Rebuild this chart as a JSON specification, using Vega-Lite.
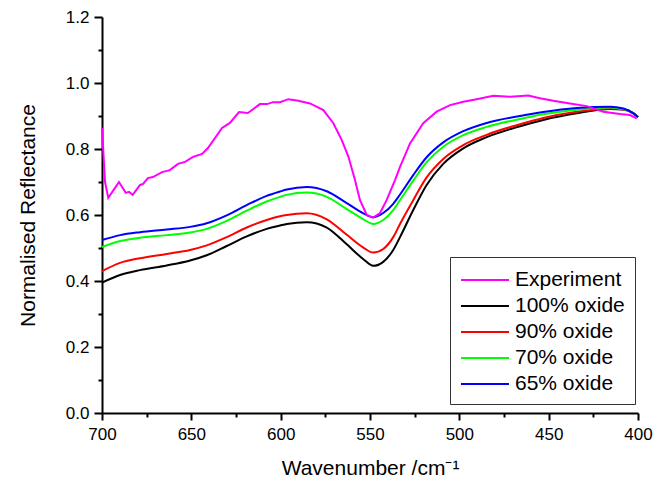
{
"$schema": "https://vega.github.io/schema/vega-lite/v6.json",
"autosize": "none",
"width": 536,
"height": 396,
"padding": {"left": 102, "top": 17, "right": 26, "bottom": 67},
"background": "white",
"config": {
  "view": {"stroke": null},
  "axis": {"grid": false, "labelFlush": false, "domainColor": "black", "domainWidth": 2, "tickColor": "black", "tickWidth": 2, "labelFont": "Liberation Sans", "labelFontSize": 17, "labelColor": "black", "titleFont": "Liberation Sans", "titleFontSize": 21, "titleFontWeight": "normal", "titleColor": "black"},
  "legend": {"labelFont": "Liberation Sans", "labelFontSize": 21, "labelColor": "black"}
},
"datasets": {
  "exp": [
    {"w":700,"r":0.864},{"w":698.3,"r":0.700},{"w":696.5,"r":0.652},{"w":692.7,"r":0.682},{"w":690.5,"r":0.700},{"w":686.7,"r":0.667},{"w":684.9,"r":0.670},{"w":682.8,"r":0.661},{"w":678.7,"r":0.691},{"w":677,"r":0.694},{"w":674.3,"r":0.712},{"w":671.5,"r":0.715},{"w":666.4,"r":0.730},{"w":662,"r":0.736},{"w":657.5,"r":0.755},{"w":653.5,"r":0.761},{"w":649,"r":0.776},{"w":644,"r":0.785},{"w":640.7,"r":0.803},{"w":632.8,"r":0.864},{"w":628.4,"r":0.879},{"w":623.3,"r":0.912},{"w":618.3,"r":0.909},{"w":611.6,"r":0.936},{"w":607.6,"r":0.936},{"w":604.3,"r":0.942},{"w":600.4,"r":0.942},{"w":595.7,"r":0.951},{"w":590.1,"r":0.946},{"w":583.6,"r":0.938},{"w":576.1,"r":0.918},{"w":570.5,"r":0.878},{"w":565.8,"r":0.827},{"w":562.1,"r":0.777},{"w":558.4,"r":0.706},{"w":555.6,"r":0.645},{"w":551.8,"r":0.600},{"w":548.2,"r":0.592},{"w":544.4,"r":0.606},{"w":540.7,"r":0.645},{"w":536,"r":0.706},{"w":533.2,"r":0.746},{"w":527.6,"r":0.817},{"w":520.2,"r":0.878},{"w":512.7,"r":0.913},{"w":505.2,"r":0.933},{"w":497.8,"r":0.943},{"w":490.3,"r":0.951},{"w":481,"r":0.961},{"w":471.6,"r":0.958},{"w":461.4,"r":0.962},{"w":454.9,"r":0.954},{"w":447.4,"r":0.946},{"w":438.1,"r":0.938},{"w":428.7,"r":0.930},{"w":419.4,"r":0.913},{"w":410.1,"r":0.906},{"w":404.5,"r":0.903},{"w":400.7,"r":0.893}
  ],
  "models": [
    {"w":700,"r":0.395,"s":"100% oxide"},{"w":689.9,"r":0.418,"s":"100% oxide"},{"w":678.7,"r":0.433,"s":"100% oxide"},{"w":663.8,"r":0.447,"s":"100% oxide"},{"w":650.7,"r":0.462,"s":"100% oxide"},{"w":641.4,"r":0.478,"s":"100% oxide"},{"w":630.2,"r":0.506,"s":"100% oxide"},{"w":619.0,"r":0.535,"s":"100% oxide"},{"w":607.8,"r":0.558,"s":"100% oxide"},{"w":600.4,"r":0.568,"s":"100% oxide"},{"w":596.6,"r":0.573,"s":"100% oxide"},{"w":585.4,"r":0.578,"s":"100% oxide"},{"w":574.2,"r":0.562,"s":"100% oxide"},{"w":563.0,"r":0.511,"s":"100% oxide"},{"w":553.7,"r":0.466,"s":"100% oxide"},{"w":548.2,"r":0.446,"s":"100% oxide"},{"w":542.6,"r":0.458,"s":"100% oxide"},{"w":537.0,"r":0.494,"s":"100% oxide"},{"w":533.2,"r":0.533,"s":"100% oxide"},{"w":525.8,"r":0.615,"s":"100% oxide"},{"w":518.3,"r":0.691,"s":"100% oxide"},{"w":509.0,"r":0.755,"s":"100% oxide"},{"w":497.8,"r":0.802,"s":"100% oxide"},{"w":484.7,"r":0.836,"s":"100% oxide"},{"w":466.0,"r":0.869,"s":"100% oxide"},{"w":453.0,"r":0.888,"s":"100% oxide"},{"w":434.3,"r":0.908,"s":"100% oxide"},{"w":415.7,"r":0.921,"s":"100% oxide"},{"w":408.2,"r":0.920,"s":"100% oxide"},{"w":402.6,"r":0.909,"s":"100% oxide"},{"w":400,"r":0.897,"s":"100% oxide"},
    {"w":700,"r":0.430,"s":"90% oxide"},{"w":689.9,"r":0.455,"s":"90% oxide"},{"w":678.7,"r":0.469,"s":"90% oxide"},{"w":663.8,"r":0.482,"s":"90% oxide"},{"w":650.7,"r":0.494,"s":"90% oxide"},{"w":641.4,"r":0.508,"s":"90% oxide"},{"w":630.2,"r":0.533,"s":"90% oxide"},{"w":619.0,"r":0.562,"s":"90% oxide"},{"w":607.8,"r":0.585,"s":"90% oxide"},{"w":600.4,"r":0.596,"s":"90% oxide"},{"w":596.6,"r":0.600,"s":"90% oxide"},{"w":585.4,"r":0.605,"s":"90% oxide"},{"w":574.2,"r":0.587,"s":"90% oxide"},{"w":563.0,"r":0.540,"s":"90% oxide"},{"w":553.7,"r":0.501,"s":"90% oxide"},{"w":548.2,"r":0.486,"s":"90% oxide"},{"w":542.6,"r":0.497,"s":"90% oxide"},{"w":537.0,"r":0.533,"s":"90% oxide"},{"w":533.2,"r":0.573,"s":"90% oxide"},{"w":525.8,"r":0.645,"s":"90% oxide"},{"w":518.3,"r":0.714,"s":"90% oxide"},{"w":509.0,"r":0.770,"s":"90% oxide"},{"w":497.8,"r":0.812,"s":"90% oxide"},{"w":484.7,"r":0.843,"s":"90% oxide"},{"w":466.0,"r":0.875,"s":"90% oxide"},{"w":453.0,"r":0.894,"s":"90% oxide"},{"w":434.3,"r":0.913,"s":"90% oxide"},{"w":415.7,"r":0.923,"s":"90% oxide"},{"w":408.2,"r":0.920,"s":"90% oxide"},{"w":402.6,"r":0.908,"s":"90% oxide"},{"w":400,"r":0.897,"s":"90% oxide"},
    {"w":700,"r":0.503,"s":"70% oxide"},{"w":689.9,"r":0.521,"s":"70% oxide"},{"w":678.7,"r":0.531,"s":"70% oxide"},{"w":663.8,"r":0.539,"s":"70% oxide"},{"w":650.7,"r":0.547,"s":"70% oxide"},{"w":641.4,"r":0.558,"s":"70% oxide"},{"w":630.2,"r":0.582,"s":"70% oxide"},{"w":619.0,"r":0.613,"s":"70% oxide"},{"w":607.8,"r":0.641,"s":"70% oxide"},{"w":600.4,"r":0.655,"s":"70% oxide"},{"w":596.6,"r":0.661,"s":"70% oxide"},{"w":585.4,"r":0.668,"s":"70% oxide"},{"w":574.2,"r":0.655,"s":"70% oxide"},{"w":563.0,"r":0.618,"s":"70% oxide"},{"w":553.7,"r":0.587,"s":"70% oxide"},{"w":548.2,"r":0.573,"s":"70% oxide"},{"w":542.6,"r":0.585,"s":"70% oxide"},{"w":537.0,"r":0.615,"s":"70% oxide"},{"w":533.2,"r":0.645,"s":"70% oxide"},{"w":525.8,"r":0.704,"s":"70% oxide"},{"w":518.3,"r":0.760,"s":"70% oxide"},{"w":509.0,"r":0.807,"s":"70% oxide"},{"w":497.8,"r":0.842,"s":"70% oxide"},{"w":484.7,"r":0.867,"s":"70% oxide"},{"w":466.0,"r":0.891,"s":"70% oxide"},{"w":453.0,"r":0.905,"s":"70% oxide"},{"w":434.3,"r":0.919,"s":"70% oxide"},{"w":415.7,"r":0.926,"s":"70% oxide"},{"w":408.2,"r":0.921,"s":"70% oxide"},{"w":402.6,"r":0.908,"s":"70% oxide"},{"w":400,"r":0.897,"s":"70% oxide"},
    {"w":700,"r":0.524,"s":"65% oxide"},{"w":689.9,"r":0.539,"s":"65% oxide"},{"w":678.7,"r":0.548,"s":"65% oxide"},{"w":663.8,"r":0.556,"s":"65% oxide"},{"w":650.7,"r":0.564,"s":"65% oxide"},{"w":641.4,"r":0.575,"s":"65% oxide"},{"w":630.2,"r":0.599,"s":"65% oxide"},{"w":619.0,"r":0.630,"s":"65% oxide"},{"w":607.8,"r":0.658,"s":"65% oxide"},{"w":600.4,"r":0.671,"s":"65% oxide"},{"w":596.6,"r":0.677,"s":"65% oxide"},{"w":585.4,"r":0.685,"s":"65% oxide"},{"w":574.2,"r":0.672,"s":"65% oxide"},{"w":563.0,"r":0.636,"s":"65% oxide"},{"w":553.7,"r":0.605,"s":"65% oxide"},{"w":548.2,"r":0.593,"s":"65% oxide"},{"w":542.6,"r":0.606,"s":"65% oxide"},{"w":537.0,"r":0.634,"s":"65% oxide"},{"w":533.2,"r":0.662,"s":"65% oxide"},{"w":525.8,"r":0.721,"s":"65% oxide"},{"w":518.3,"r":0.775,"s":"65% oxide"},{"w":509.0,"r":0.820,"s":"65% oxide"},{"w":497.8,"r":0.854,"s":"65% oxide"},{"w":484.7,"r":0.879,"s":"65% oxide"},{"w":466.0,"r":0.900,"s":"65% oxide"},{"w":453.0,"r":0.912,"s":"65% oxide"},{"w":434.3,"r":0.924,"s":"65% oxide"},{"w":415.7,"r":0.928,"s":"65% oxide"},{"w":408.2,"r":0.923,"s":"65% oxide"},{"w":402.6,"r":0.908,"s":"65% oxide"},{"w":400,"r":0.897,"s":"65% oxide"}
  ]
},
"encoding": {
  "x": {"field": "w", "type": "quantitative", "title": "Wavenumber /cm⁻¹",
    "scale": {"domain": [700, 400], "nice": false, "zero": false},
    "axis": {"values": [700,675,650,625,600,575,550,525,500,475,450,425,400], "format": "d",
      "labelExpr": "datum.value % 50 === 0 ? datum.label : ''",
      "tickSize": {"condition": {"test": "datum.value % 50 === 0", "value": 7}, "value": 4},
      "labelPadding": 6, "titlePadding": 15}},
  "y": {"field": "r", "type": "quantitative", "title": "Normalised Reflectance",
    "scale": {"domain": [0, 1.2], "nice": false},
    "axis": {"values": [0,0.1,0.2,0.3,0.4,0.5,0.6,0.7,0.8,0.9,1.0,1.1,1.2], "format": ".1f",
      "labelExpr": "round(datum.value*10) % 2 === 0 ? datum.label : ''",
      "tickSize": {"condition": {"test": "round(datum.value*10) % 2 === 0", "value": 8}, "value": 4},
      "labelPadding": 5, "titlePadding": 27}},
  "color": {"field": "s", "type": "nominal", "title": null,
    "scale": {"domain": ["Experiment", "100% oxide", "90% oxide", "70% oxide", "65% oxide"], "range": ["#ff00ff", "#000000", "#ff0000", "#00ff00", "#0000ff"]},
    "legend": {"orient": "none", "legendX": 348, "legendY": 240, "symbolType": "M-1,0L3,0", "symbolSize": 576, "symbolStrokeWidth": 2, "strokeColor": "#333333", "padding": 10, "fillColor": "white", "labelOffset": 29, "rowPadding": 3}}
},
"layer": [
  {
    "data": {"name": "models"},
    "mark": {"type": "line", "strokeWidth": 2, "interpolate": "monotone"}
  },
  {
    "data": {"name": "exp"},
    "transform": [{"calculate": "'Experiment'", "as": "s"}],
    "mark": {"type": "line", "strokeWidth": 2}
  }
]
}
